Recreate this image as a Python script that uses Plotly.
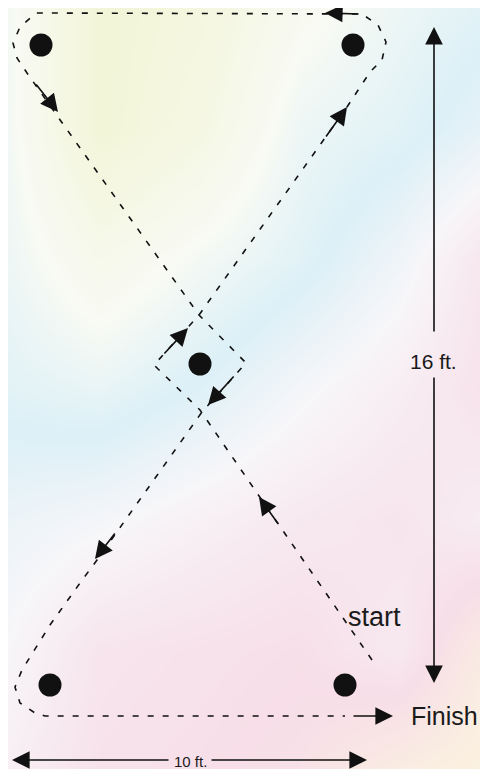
import plotly.graph_objects as go

W, H = 488, 769
OFF = 8  # page body margin: shift the axes so drawing lands on the reference pixels

# background tint grid (pastel watercolor)
bg_x = [0, 100, 200, 300, 400, 488]
bg_y = [0, 130, 260, 390, 520, 650, 769]
bg_z = [
    [0.44, 0.14, 0.20, 0.36, 0.45, 0.50],
    [0.45, 0.14, 0.25, 0.45, 0.50, 0.58],
    [0.46, 0.32, 0.42, 0.50, 0.62, 0.78],
    [0.50, 0.47, 0.54, 0.64, 0.72, 0.80],
    [0.60, 0.64, 0.70, 0.75, 0.78, 0.72],
    [0.65, 0.78, 0.80, 0.82, 0.75, 0.95],
    [0.70, 0.80, 0.82, 0.85, 0.95, 1.00],
]
bg_scale = [[0.0, "#f3f5d8"], [0.3, "#f8faf4"], [0.45, "#dcf0f7"],
            [0.6, "#f7f6f9"], [0.8, "#f7dee8"], [1.0, "#fbf2df"]]

# cones
cone_x = [41, 353, 200, 50, 345]
cone_y = [45, 45, 364, 685, 685]

# figure-eight route
route_x = [372, 333, 279, 200, 154, 199, 347, 370, 382, 386, 378, 362, 36, 20, 13, 17, 27,
           58, 199, 246, 202, 97, 80, 50, 30, 22, 15, 20, 35, 45, 345]
route_y = [660, 603, 525, 410, 365, 315, 107, 72, 60, 42, 25, 14, 13, 27, 43, 58, 73,
           117, 315, 363, 412, 560, 583, 625, 657, 670, 687, 703, 713, 716, 716]

# direction arrows (tail -> head)
arr_tail_x = [360, 35, 325, 163, 235, 279, 116, 352]
arr_tail_y = [14, 83, 138, 355, 375, 525, 532, 716]
arr_head_x = [325, 58, 347, 188, 208, 259, 95, 393]
arr_head_y = [13, 112, 107, 328, 405, 497, 559, 716]

# dimension arrows (tail -> head)
dim_tail_x = [434, 434, 170, 210]
dim_tail_y = [333, 376, 760, 760]
dim_head_x = [434, 434, 12, 367]
dim_head_y = [27, 683, 760, 760]

labels = ["start", "Finish", "16 ft.", "10 ft."]
label_x = [374, 444, 433, 190]
label_y = [617, 716, 361, 761]
label_size = [27, 25, 21, 15]

fig = go.Figure()
fig.add_trace(go.Heatmap(x=bg_x, y=bg_y, z=bg_z, colorscale=bg_scale, zsmooth="best",
                         showscale=False, hoverinfo="skip"))
fig.add_trace(go.Scatter(x=route_x, y=route_y, mode="lines",
                         line=dict(color="#111111", width=1.6, dash="6px,9px"),
                         hoverinfo="skip"))
fig.add_trace(go.Scatter(x=cone_x, y=cone_y, mode="markers",
                         marker=dict(size=23, color="#111111"), hoverinfo="skip"))

for tx, ty, hx, hy in zip(arr_tail_x, arr_tail_y, arr_head_x, arr_head_y):
    fig.add_annotation(x=hx, y=hy, ax=tx, ay=ty, xref="x", yref="y", axref="x", ayref="y",
                       text="", showarrow=True, arrowhead=2, arrowsize=2.2,
                       arrowwidth=1.6, arrowcolor="#111111")
for tx, ty, hx, hy in zip(dim_tail_x, dim_tail_y, dim_head_x, dim_head_y):
    fig.add_annotation(x=hx, y=hy, ax=tx, ay=ty, xref="x", yref="y", axref="x", ayref="y",
                       text="", showarrow=True, arrowhead=2, arrowsize=2.2,
                       arrowwidth=1.6, arrowcolor="#111111")
for t, lx, ly, s in zip(labels, label_x, label_y, label_size):
    fig.add_annotation(x=lx, y=ly, xref="x", yref="y", text=t, showarrow=False,
                       font=dict(family="Liberation Sans, Arial", size=s, color="#1a1a1a"))

fig.update_layout(width=W, height=H, margin=dict(l=0, r=0, t=0, b=0),
                  paper_bgcolor="white", plot_bgcolor="white", showlegend=False,
                  xaxis=dict(range=[OFF, W + OFF], visible=False, fixedrange=True),
                  yaxis=dict(range=[H + OFF, OFF], visible=False, fixedrange=True))
fig.write_html("out.html")
